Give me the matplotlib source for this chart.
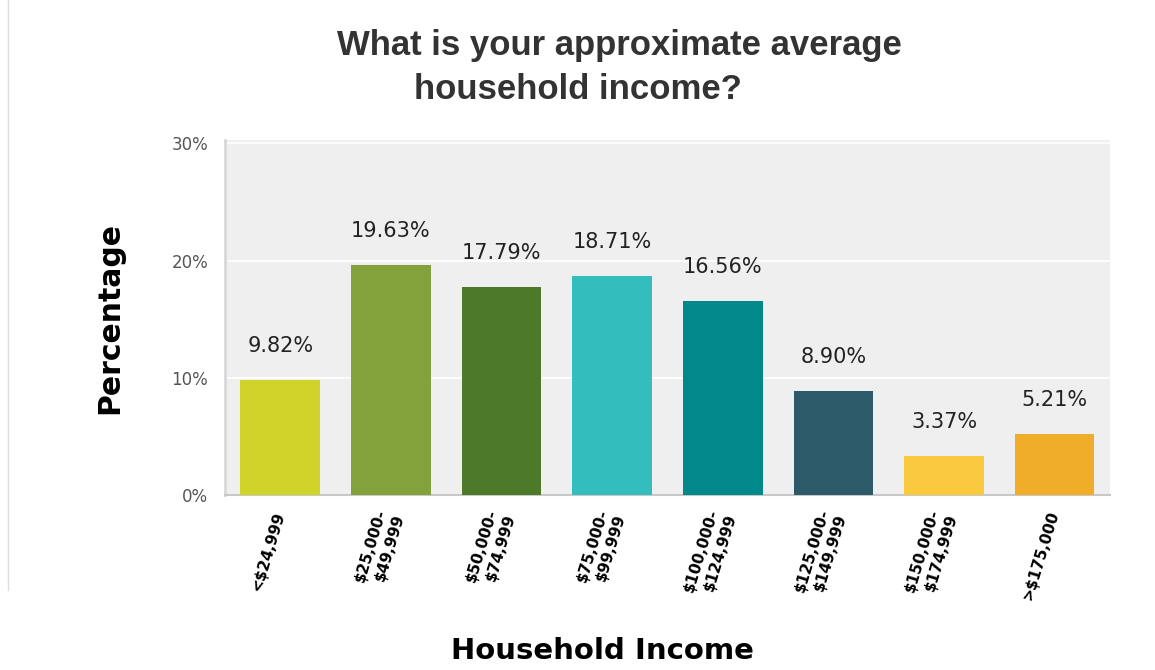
import numpy as np
import matplotlib
matplotlib.use("Agg")
import matplotlib.pyplot as plt
from matplotlib.lines import Line2D

categories = ['<$24,999', '$25,000-\n$49,999', '$50,000-\n$74,999', '$75,000-\n$99,999',
              '$100,000-\n$124,999', '$125,000-\n$149,999', '$150,000-\n$174,999', '>$175,000']
values = [9.82, 19.63, 17.79, 18.71, 16.56, 8.90, 3.37, 5.21]
colors = ['#d0d42a', '#84a23b', '#4d7a28', '#34bdbd', '#00888a', '#2d5a68', '#fbc93e', '#efad2a']

fig = plt.figure(figsize=(11.55, 6.7), dpi=100)
ax = fig.add_axes([0.1948, 0.2612, 0.7662, 0.53])
ax.set_facecolor('#efefef')

x = np.arange(len(values))
ax.bar(x, values, width=0.72, color=colors, zorder=3)

for xi, v in zip(x, values):
    ax.text(xi, v + 2.9, f'{v:.2f}%', ha='center', va='center', fontsize=15, color='#222222')

ax.set_xlim(-0.5, len(values) - 0.5)
ax.set_ylim(0, 30.3)
ax.set_yticks([0, 10, 20, 30])
ax.set_yticklabels(['0%', '10%', '20%', '30%'], fontsize=12, color='#555555')
ax.yaxis.grid(True, color='white', linewidth=1.2, zorder=0)
ax.tick_params(axis='y', length=0, pad=12)
ax.tick_params(axis='x', length=0, pad=12)
ax.set_xticks(x)
ax.set_xticklabels(categories, rotation=73, ha='right', va='center',
                   rotation_mode='anchor', fontsize=11, fontweight='bold',
                   linespacing=1.3)

for side in ['top', 'right']:
    ax.spines[side].set_visible(False)
ax.spines['left'].set_color('#d8d8d8')
ax.spines['left'].set_linewidth(2)
ax.spines['bottom'].set_color('#c8c8c8')
ax.spines['bottom'].set_linewidth(1.5)

fig.text(0.536, 0.932, 'What is your approximate average', ha='center', va='center',
         fontsize=25, fontweight='bold', color='#333333', family='Liberation Sans')
fig.text(0.50, 0.866, 'household income?', ha='center', va='center',
         fontsize=25, fontweight='bold', color='#333333', family='Liberation Sans')
fig.text(0.095, 0.525, 'Percentage', rotation=90, ha='center', va='center',
         fontsize=21.5, fontweight='bold', color='black')
fig.text(0.522, 0.028, 'Household Income', ha='center', va='center',
         fontsize=21, fontweight='bold', color='black')

fig.add_artist(Line2D([0.007, 0.007], [0.12, 1.0], transform=fig.transFigure,
                      color='#dddddd', linewidth=1))

plt.savefig('out.png', dpi=100)
